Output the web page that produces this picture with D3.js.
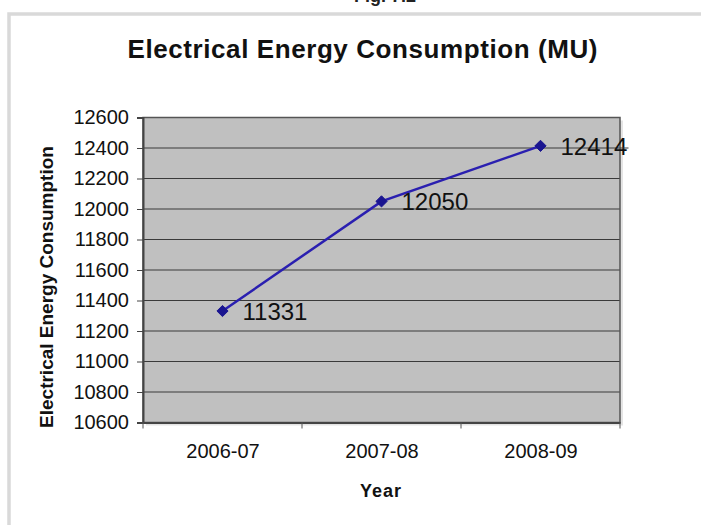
<!DOCTYPE html>
<html><head><meta charset="utf-8">
<script src="https://cdn.jsdelivr.net/npm/d3@7"></script>
<style>
html,body{margin:0;padding:0;background:#fff;}
text{font-family:"Liberation Sans",Arial,sans-serif;}
</style></head>
<body>
<svg id="c" width="701" height="525"></svg>
<script>
const categories = ["2006-07","2007-08","2008-09"];
const values = [11331, 12050, 12414];
const yTicks = [10600,10800,11000,11200,11400,11600,11800,12000,12200,12400,12600];
const titleText = "Electrical Energy Consumption (MU)";
const yTitle = "Electrical Energy Consumption";
const xTitle = "Year";

const svg = d3.select("#c");
const L = 143, R = 620, T = 117.5, B = 422.5;
const x = d3.scalePoint().domain(categories).range([L, R]).padding(0.5);
const xb = d3.scaleBand().domain(categories).range([L, R]);
const y = d3.scaleLinear().domain([10600, 12600]).range([B, T]);

// figure caption remnant at top
svg.append("text").attr("x", 385).attr("y", 2).attr("text-anchor","middle")
  .attr("font-size", 18).attr("font-weight","bold").attr("fill","#222").text("Fig. 7.2");

// outer chart frame (light grey)
svg.append("rect").attr("x", 9).attr("y", 14).attr("width", 700).attr("height", 520)
  .attr("fill","none").attr("stroke","#d9d9d9").attr("stroke-width", 3.5);

// title
svg.append("text").attr("x", 362.5).attr("y", 58).attr("text-anchor","middle")
  .attr("font-size", 26).attr("font-weight","bold").attr("fill","#111")
  .attr("textLength", 470).attr("lengthAdjust","spacing").text(titleText);

// shadow
svg.append("rect").attr("x", L+3).attr("y", T+3).attr("width", R-L).attr("height", B-T)
  .attr("fill","#e4e4e4");
// plot area
svg.append("rect").attr("x", L).attr("y", T).attr("width", R-L).attr("height", B-T)
  .attr("fill","#c0c0c0");

// gridlines
svg.append("g").selectAll("line").data(yTicks).join("line")
  .attr("x1", L).attr("x2", R).attr("y1", d=>y(d)).attr("y2", d=>y(d))
  .attr("stroke","#3a3a3a").attr("stroke-width",1);

// border
svg.append("rect").attr("x", L).attr("y", T).attr("width", R-L).attr("height", B-T)
  .attr("fill","none").attr("stroke","#555").attr("stroke-width",1.5);

// y axis
const yAxis = d3.axisLeft(y).tickValues(yTicks).tickSize(6).tickPadding(8).tickFormat(d3.format("d"));
const gy = svg.append("g").attr("transform",`translate(${L},0)`).call(yAxis);
gy.select(".domain").attr("stroke","#444").attr("stroke-width",2);
gy.selectAll(".tick line").attr("stroke","#444");
gy.selectAll("text").attr("font-size",20).attr("fill","#111")
  .attr("font-family","'Liberation Sans',Arial,sans-serif");

// x axis
const xAxis = d3.axisBottom(x).tickSize(0).tickPadding(21);
const gx = svg.append("g").attr("transform",`translate(0,${B})`).call(xAxis);
gx.select(".domain").attr("stroke","#444").attr("stroke-width",2);
gx.selectAll("text").attr("font-size",20).attr("fill","#111")
  .attr("font-family","'Liberation Sans',Arial,sans-serif");
// category boundary ticks
const bounds = categories.map(c=>xb(c)).concat([xb(categories[categories.length-1])+xb.bandwidth()]);
svg.append("g").selectAll("line").data(bounds).join("line")
  .attr("x1",d=>d).attr("x2",d=>d).attr("y1",B).attr("y2",B+6)
  .attr("stroke","#555").attr("stroke-width",1);

// axis titles
svg.append("text").attr("transform",`translate(53,287) rotate(-90)`)
  .attr("text-anchor","middle").attr("font-size",19).attr("font-weight","bold").attr("fill","#111")
  .text(yTitle);
svg.append("text").attr("x", 381).attr("y", 497).attr("text-anchor","middle")
  .attr("font-size",18).attr("font-weight","bold").attr("fill","#111")
  .attr("letter-spacing", 1).text(xTitle);

// line
const line = d3.line().x((d,i)=>x(categories[i])).y(d=>y(d));
svg.append("path").datum(values).attr("d", line).attr("fill","none")
  .attr("stroke","#2a1fb0").attr("stroke-width",2.5);
// markers
svg.append("g").selectAll("path").data(values).join("path")
  .attr("transform",(d,i)=>`translate(${x(categories[i])},${y(d)})`)
  .attr("d", d3.symbol(d3.symbolDiamond2, 80))
  .attr("fill","#1a1590").attr("stroke","#1a1590").attr("stroke-width",1);
// data labels
svg.append("g").selectAll("text").data(values).join("text")
  .attr("x",(d,i)=>x(categories[i])+20).attr("y",d=>y(d)+9)
  .attr("font-size",24).attr("fill","#111").text(d=>d);
// gridline crossing last label
const last = values.length-1;
svg.append("line").attr("x1", R).attr("x2", x(categories[last])+20+68)
  .attr("y1", y(12400)).attr("y2", y(12400)).attr("stroke","#3a3a3a").attr("stroke-width",1);
</script>
</body></html>
